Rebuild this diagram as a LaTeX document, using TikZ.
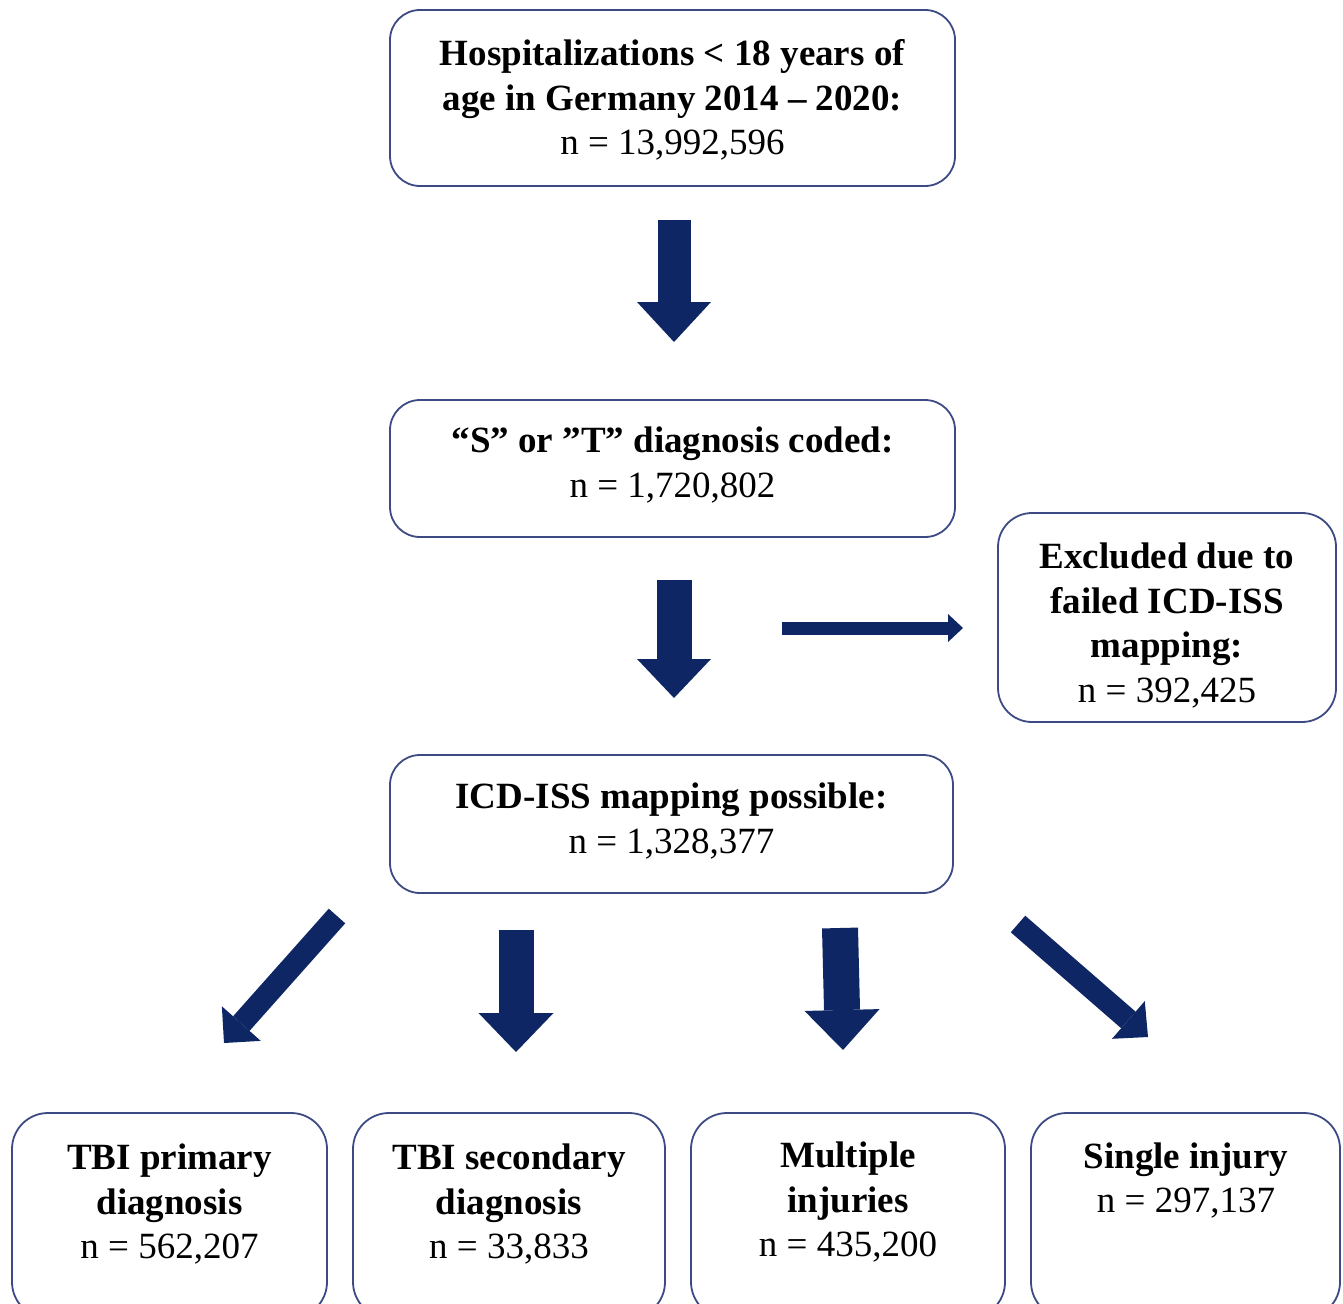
\documentclass[tikz,border=0pt]{standalone}
\usepackage{fontspec}
\setmainfont{Liberation Serif}
\usetikzlibrary{arrows.meta}
\definecolor{navy}{RGB}{14,38,100}
\definecolor{boxline}{RGB}{62,74,132}
\tikzset{
  box/.style={draw=boxline, line width=1.8pt, rounded corners=30pt, fill=white, inner sep=0pt},
  txt/.style={align=center, font=\fontsize{37}{44.5}\selectfont, inner sep=0pt, text=black, yshift=-2.5pt},
  bigarrow/.style n args={4}{draw=navy, line width=#1, line cap=butt,
    -{Triangle[width=#2, length=#3, line width=0pt, fill=navy]}, shorten >=#4},
}
\begin{document}
\begin{tikzpicture}[x=1pt, y=-1pt]
\useasboundingbox (0,0) rectangle (1343,1303);
\begin{scope}
\clip (0,0) rectangle (1343,1303);
% boxes
\node[box, minimum width=565pt, minimum height=176pt] (top) at (672.5,98) {};
\node[box, minimum width=565pt, minimum height=137pt] (sd) at (672.5,468.5) {};
\node[box, minimum width=338pt, minimum height=209pt, rounded corners=34pt] (ex) at (1167,617.5) {};
\node[box, minimum width=563pt, minimum height=138pt] (map) at (671.5,824) {};
\node[box, minimum width=315pt, minimum height=205pt, rounded corners=36pt] (b1) at (169.5,1215.5) {};
\node[box, minimum width=312pt, minimum height=205pt, rounded corners=36pt] (b2) at (509,1215.5) {};
\node[box, minimum width=314pt, minimum height=205pt, rounded corners=36pt] (b3) at (848,1215.5) {};
\node[box, minimum width=309pt, minimum height=205pt, rounded corners=36pt] (b4) at (1185.5,1215.5) {};
\end{scope}
% texts
\node[txt] (ttop) at (672.5,97.5) {\textbf{Hospitalizations < 18 years of}\\\textbf{age in Germany 2014 – 2020:}\\n = 13,992,596};
\node[txt] (tsd) at (672.5,462.5) {\textbf{“S” or ”T” diagnosis coded:}\\n = 1,720,802};
\node[txt] (tex) at (1167,623) {\textbf{Excluded due to}\\\textbf{failed ICD-ISS}\\\textbf{mapping:}\\n = 392,425};
\node[txt] (tmap) at (671.5,818.5) {\textbf{ICD-ISS mapping possible:}\\n = 1,328,377};
\node[txt] (tb1) at (169.5,1201.5) {\textbf{TBI primary}\\\textbf{diagnosis}\\n = 562,207};
\node[txt] (tb2) at (509,1201.5) {\textbf{TBI secondary}\\\textbf{diagnosis}\\n = 33,833};
\node[txt] (tb3) at (848,1199.5) {\textbf{Multiple}\\\textbf{injuries}\\n = 435,200};
\node[txt] (tb4) at (1186,1178) {\textbf{Single injury}\\n = 297,137};
% arrow end points
\coordinate (a1s) at (674,220);  \coordinate (a1e) at (674,342);
\coordinate (a2s) at (674,580);  \coordinate (a2e) at (674,698);
\coordinate (hs) at (782,628);   \coordinate (he) at (963,628);
\coordinate (d1s) at (337,916);  \coordinate (d1e) at (224,1043);
\coordinate (d2s) at (516,930);  \coordinate (d2e) at (516,1052);
\coordinate (d3s) at (840,928);  \coordinate (d3e) at (843,1050);
\coordinate (d4s) at (1018,924); \coordinate (d4e) at (1148,1037);
% arrows
\draw[bigarrow={33pt}{74pt}{40pt}{0pt}] (a1s) -- (a1e);
\draw[bigarrow={35pt}{74pt}{39pt}{0pt}] (a2s) -- (a2e);
\draw[bigarrow={13pt}{28pt}{15pt}{0pt}] (hs) -- (he);
\draw[bigarrow={22pt}{52pt}{26pt}{0pt}] (d1s) -- (d1e);
\draw[bigarrow={35pt}{75pt}{39pt}{0pt}] (d2s) -- (d2e);
\draw[bigarrow={36pt}{75pt}{40pt}{0pt}] (d3s) -- (d3e);
\draw[bigarrow={22pt}{50pt}{26pt}{0pt}] (d4s) -- (d4e);
\end{tikzpicture}
\end{document}
